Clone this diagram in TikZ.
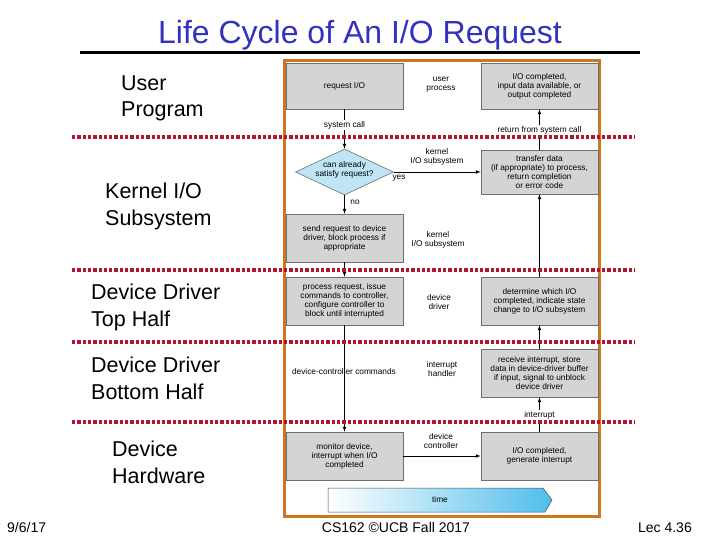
\documentclass[tikz,border=0pt]{standalone}
\usepackage{fontspec}
\setmainfont{Liberation Sans}
\usepackage{xcolor}
\usetikzlibrary{positioning}
\usetikzlibrary{shapes.geometric}
\definecolor{titleblue}{RGB}{50,50,190}
\definecolor{frameorange}{RGB}{200,120,32}
\definecolor{dividerred}{RGB}{180,20,50}
\definecolor{boxgray}{RGB}{212,212,212}
\definecolor{boxline}{RGB}{110,110,110}
\definecolor{askblue}{RGB}{190,228,245}
\definecolor{timeblue}{RGB}{80,190,235}

\begin{document}
\begin{tikzpicture}[
      x=1pt, y=-1pt,
      type-step/.style={rectangle, draw=boxline, fill=boxgray, line width=0.6pt,
        minimum width=117pt, minimum height=48pt, inner sep=1pt, align=center,
        font=\fontsize{8.3}{9}\selectfont},
      type-ask/.style={diamond, draw=boxline, fill=askblue, line width=0.6pt,
        minimum width=98pt, minimum height=46pt, inner sep=0pt},
      type-note/.style={align=center, inner sep=1pt, font=\fontsize{8.3}{9}\selectfont},
      type-cut/.style={fill=white},
      type-layer/.style={anchor=west, align=left, inner sep=0pt,
        font=\fontsize{21.5}{26.5}\selectfont},
      type-divider/.style={dividerred, line width=4pt, dash pattern=on 3.3pt off 2pt},
      type-foot/.style={font=\fontsize{14}{16}\selectfont, inner sep=0pt},
      every edge/.style={draw, -latex, line width=0.7pt}
    ]
      \useasboundingbox (0,0) rectangle (720,540);

      % title
      \node[titleblue, anchor=base, font=\fontsize{32}{36}\selectfont] (title) at (360,44) {Life Cycle of An I/O Request};
      \draw[line width=3pt] (80,53) -- (640,53);

      % layers on the left
      \node[type-layer] (lay-user) at (121,98.5) {User\\Program};
      \node[type-layer] (lay-kernel) at (105,206.4) {Kernel I/O\\Subsystem};
      \node[type-layer] (lay-top) at (91,307.5) {Device Driver\\Top Half};
      \node[type-layer] (lay-bottom) at (91,378.3) {Device Driver\\Bottom Half};
      \node[type-layer] (lay-hw) at (112,462.3) {Device\\Hardware};

      % frame of the figure
      \draw[frameorange, line width=2.7pt] (284.3,60.3) rectangle (599.7,516.5);

      % steps
      \node[type-step, minimum height=46pt] (req) at (344.5,86) {request I/O};
      \node[type-step, minimum height=46pt] (done) at (539.5,86) {I/O completed,\\input data available, or\\output completed};
      \node[type-ask] (ask) at (344.5,172) {};
      \node[type-note] (ask-text) at (344.5,170) {can already\\satisfy request?};
      \node[type-step, minimum height=44pt] (transfer) at (539.5,172) {transfer data\\(if appropriate) to process,\\return completion\\or error code};
      \node[type-step] (send) at (344.5,238) {send request to device\\driver, block process if\\appropriate};
      \node[type-step] (procreq) at (344.5,301) {process request, issue\\commands to controller,\\configure controller to\\block until interrupted};
      \node[type-step] (determine) at (539.5,301) {determine which I/O\\completed, indicate state\\change to I/O subsystem};
      \node[type-step] (receive) at (539.5,373) {receive interrupt, store\\data in device-driver buffer\\if input, signal to unblock\\device driver};
      \node[type-step] (monitor) at (344.5,456) {monitor device,\\interrupt when I/O\\completed};
      \node[type-step] (complete) at (539.5,456) {I/O completed,\\generate interrupt};

      % connectors
      \draw (req) edge (ask)
            (ask) edge (send)
            (ask) edge (transfer)
            (send) edge (procreq)
            (procreq) edge (monitor)
            (monitor) edge (complete)
            (complete) edge (receive)
            (receive) edge (determine)
            (determine) edge (transfer)
            (transfer) edge (done);

      % labels on the connectors
      \node[type-note, type-cut] (lbl-syscall) at (344.5,125) {system call};
      \node[type-note, type-cut] (lbl-return) at (539.5,130) {return from system call};
      \node[type-note] (lbl-kernel1) at (437,157) {kernel\\I/O subsystem};
      \node[type-note] (lbl-yes) at (399,178) {yes};
      \node[type-note] (lbl-no) at (355,202) {no};
      \node[type-note] (lbl-kernel2) at (438,239.5) {kernel\\I/O subsystem};
      \node[type-note] (lbl-user) at (441,85) {user\\process};
      \node[type-note] (lbl-driver) at (439,302) {device\\driver};
      \node[type-note] (lbl-commands) at (344,372) {device-controller commands};
      \node[type-note] (lbl-handler) at (442,369) {interrupt\\handler};
      \node[type-note, type-cut] (lbl-interrupt) at (539.5,415) {interrupt};
      \node[type-note] (lbl-controller) at (441,441) {device\\controller};

      % time arrow
      \shade[left color=white, right color=timeblue, draw=black!70, line width=0.5pt]
        (328,488) -- (543,488) -- (552,500) -- (545,512) -- (328,512) -- cycle;
      \node[type-note] (time) at (440,500) {time};

      % dividers between the layers
      \foreach \y in {137.5,270,342,421.5}
        \draw[type-divider] (72,\y) -- (634,\y);

      % footer
      \node[type-foot, anchor=base west] (foot-date) at (7,532) {9/6/17};
      \node[type-foot, anchor=base] (foot-course) at (396,532) {CS162 \textcopyright UCB Fall 2017};
      \node[type-foot, anchor=base east] (foot-lec) at (692,532) {Lec 4.36};
    \end{tikzpicture}
\end{document}
